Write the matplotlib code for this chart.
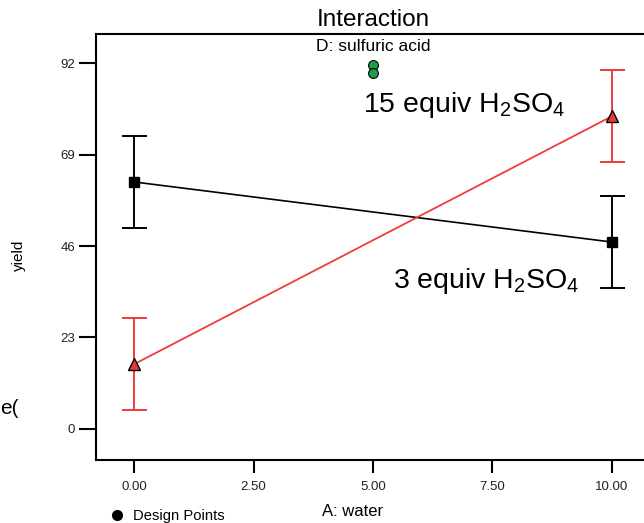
import matplotlib.pyplot as plt
from matplotlib.lines import Line2D

plt.rcParams['font.family'] = ['Liberation Sans', 'DejaVu Sans']
plt.rcParams['mathtext.fontset'] = 'custom'
plt.rcParams['mathtext.rm'] = 'Liberation Sans'
plt.rcParams['mathtext.it'] = 'Liberation Sans'

# data
water = [0.0, 10.0]
low_acid = [62.1, 47.0]       # 3 equiv H2SO4
low_err = [11.5, 11.5]
high_acid = [16.3, 78.6]      # 15 equiv H2SO4
high_err = [11.5, 11.6]
design_x = [5.0, 5.0]
design_y = [91.5, 89.4]

xticks = [0.0, 2.5, 5.0, 7.5, 10.0]
yticks = [0, 23, 46, 69, 92]

W, H = 644, 523
fig = plt.figure(figsize=(W / 100, H / 100), dpi=100)
# axes box in pixels: left 96, right ~650 (runs past the edge), top 34, bottom 460
ax = fig.add_axes([96 / W, (H - 460) / H, (650 - 96) / W, (460 - 34) / H])

ax.errorbar(water, low_acid, yerr=low_err, color='black', marker='s',
            markersize=7, linewidth=1.2, elinewidth=1.4, capsize=9, capthick=1.4)
ax.errorbar(water, high_acid, yerr=high_err, color='#f03c3c', marker='^',
            markersize=8, markerfacecolor='#e8383a', markeredgecolor='black',
            linewidth=1.3, elinewidth=1.4, capsize=9, capthick=1.4)
ax.scatter(design_x, design_y, s=50, color='#1e9e4a', edgecolor='black',
           linewidth=0.8, zorder=5)

ax.text(4.79, 81.5, '15 equiv H$_2$SO$_4$', fontsize=20.5, va='center', ha='left')
ax.text(5.42, 37.3, '3 equiv H$_2$SO$_4$', fontsize=20.5, va='center', ha='left')
ax.text(5.0, 96.2, 'D: sulfuric acid', fontsize=12.5, ha='center', va='center')

ax.set_xlim(-0.8, 10.8)
ax.set_ylim(-7.8, 99.3)
ax.set_xticks(xticks)
ax.set_xticklabels(['%.2f' % v for v in xticks])
ax.set_yticks(yticks)
ax.tick_params(axis='x', direction='out', length=9, width=1.5, labelsize=9.5,
               labelcolor='#222222', pad=6)
ax.tick_params(axis='y', direction='out', length=12, width=1.5, labelsize=9.5,
               labelcolor='#222222', pad=3)
for s in ['left', 'bottom', 'top']:
    ax.spines[s].set_linewidth(1.5)
ax.spines['right'].set_visible(False)

fig.text(373 / W, 1 - 20 / H, 'Interaction', fontsize=17.5, ha='center', va='center')
fig.text(353 / W, 1 - 512 / H, 'A: water', fontsize=12, ha='center', va='center')
fig.text(19 / W, 1 - 255 / H, 'yield', fontsize=11, rotation=90,
         ha='center', va='center')

handle = Line2D([], [], color='black', marker='o', linestyle='none', markersize=7)
fig.legend([handle], ['Design Points'], loc='center left',
           bbox_to_anchor=(108 / W, 1 - 516 / H), frameon=False, fontsize=10.6,
           handletextpad=0.5, handlelength=1.2, borderaxespad=0, borderpad=0)

# cropped page fragment at the left edge
fig.text(0, 1 - 408 / H, 'e(', fontsize=15, ha='left', va='center')

plt.savefig('out.png', dpi=100)
plt.close()
